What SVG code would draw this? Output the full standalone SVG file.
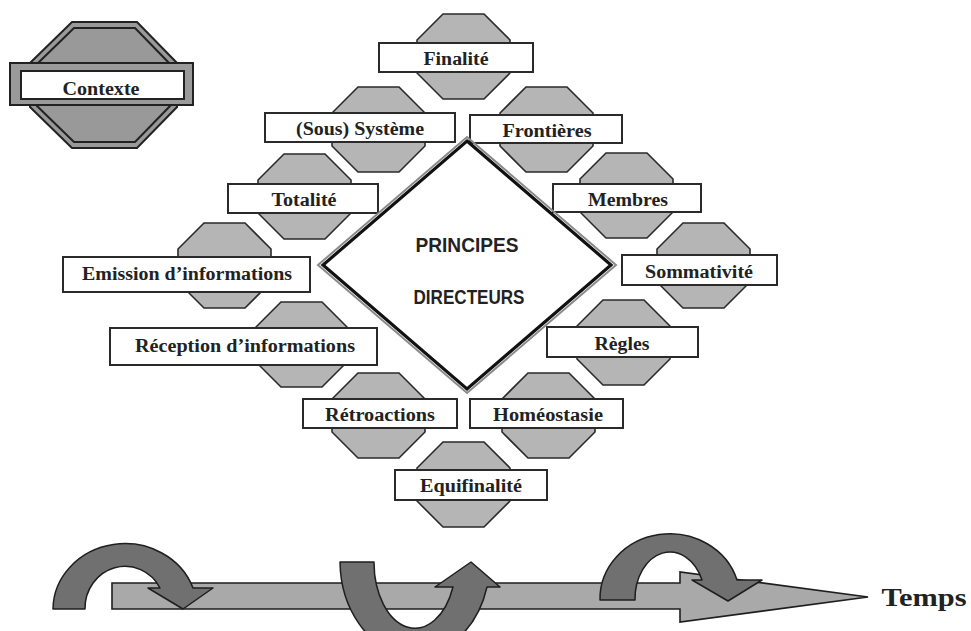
<svg xmlns="http://www.w3.org/2000/svg" xmlns:xlink="http://www.w3.org/1999/xlink" width="971" height="631" viewBox="0 0 971 631">
<style>
.oct{fill:#b5b5b5;stroke:#2a2a2a;stroke-width:1.6}
.box{fill:#fff;stroke:#2a2a2a;stroke-width:2}
.lbl{font-family:"Liberation Serif","Times New Roman",serif;font-weight:bold;font-size:18px;fill:#222;text-anchor:middle}
.dia{font-family:"Liberation Sans",Arial,sans-serif;font-weight:bold;font-size:20px;fill:#222;text-anchor:middle}
.curl{fill:#707070;stroke:#1e1e1e;stroke-width:1.5;stroke-linejoin:round}
</style>
<defs>
<polygon id="oct" points="26,0 67,0 93,26 93,59 67,85 26,85 0,59 0,26"/>
</defs>
<rect width="971" height="631" fill="#fff"/>

<g id="contexte">
<polygon points="72,22 137,22 177,63 177,107 137,148 72,148 30,107 30,63" fill="#999" stroke="#222" stroke-width="2"/>
<polygon points="74,28 135,28 171,65 171,105 135,142 74,142 36,105 36,65" fill="#999" stroke="#222" stroke-width="2"/>
<rect x="10" y="63" width="183" height="42" fill="#9a9a9a" stroke="#222" stroke-width="2"/>
<rect x="21" y="71" width="163" height="28" fill="#fff" stroke="#222" stroke-width="2"/>
<text class="lbl" x="101" y="95" textLength="77" lengthAdjust="spacingAndGlyphs">Contexte</text>
</g>

<g id="finalite">
<use xlink:href="#oct" class="oct" x="417" y="14"/>
<rect class="box" x="379" y="43" width="154" height="29"/>
<text class="lbl" x="456" y="65" textLength="65" lengthAdjust="spacingAndGlyphs">Finalité</text>
</g>

<g id="sous-systeme">
<use xlink:href="#oct" class="oct" x="332" y="87"/>
<rect class="box" x="265" y="113" width="190" height="29"/>
<text class="lbl" x="360" y="135" textLength="128" lengthAdjust="spacingAndGlyphs">(Sous) Système</text>
</g>

<g id="frontieres">
<use xlink:href="#oct" class="oct" x="500" y="87"/>
<rect class="box" x="470" y="115" width="152" height="28"/>
<text class="lbl" x="547" y="137" textLength="89" lengthAdjust="spacingAndGlyphs">Frontières</text>
</g>

<g id="totalite">
<use xlink:href="#oct" class="oct" x="258" y="154"/>
<rect class="box" x="228" y="184" width="150" height="29"/>
<text class="lbl" x="304" y="206" textLength="65" lengthAdjust="spacingAndGlyphs">Totalité</text>
</g>

<g id="membres">
<use xlink:href="#oct" class="oct" x="580" y="153"/>
<rect class="box" x="553" y="184" width="148" height="28"/>
<text class="lbl" x="628" y="206" textLength="80" lengthAdjust="spacingAndGlyphs">Membres</text>
</g>

<g id="emission">
<use xlink:href="#oct" class="oct" x="178" y="223"/>
<rect class="box" x="63" y="257" width="247" height="35"/>
<text class="lbl" x="187" y="280" textLength="210" lengthAdjust="spacingAndGlyphs">Emission d’informations</text>
</g>

<g id="sommativite">
<use xlink:href="#oct" class="oct" x="657" y="223"/>
<rect class="box" x="622" y="255" width="155" height="30"/>
<text class="lbl" x="699" y="278" textLength="108" lengthAdjust="spacingAndGlyphs">Sommativité</text>
</g>

<g id="reception">
<use xlink:href="#oct" class="oct" x="255" y="302"/>
<rect class="box" x="110" y="328" width="267" height="37"/>
<text class="lbl" x="245" y="352" textLength="220" lengthAdjust="spacingAndGlyphs">Réception d’informations</text>
</g>

<g id="regles">
<use xlink:href="#oct" class="oct" x="577" y="300"/>
<rect class="box" x="547" y="327" width="151" height="30"/>
<text class="lbl" x="622" y="350" textLength="55" lengthAdjust="spacingAndGlyphs">Règles</text>
</g>

<g id="retroactions">
<use xlink:href="#oct" class="oct" x="332" y="373"/>
<rect class="box" x="303" y="399" width="154" height="29"/>
<text class="lbl" x="380" y="421" textLength="110" lengthAdjust="spacingAndGlyphs">Rétroactions</text>
</g>

<g id="homeostasie">
<use xlink:href="#oct" class="oct" x="502" y="373"/>
<rect class="box" x="470" y="399" width="153" height="29"/>
<text class="lbl" x="548" y="421" textLength="110" lengthAdjust="spacingAndGlyphs">Homéostasie</text>
</g>

<g id="equifinalite">
<use xlink:href="#oct" class="oct" x="417" y="442"/>
<rect class="box" x="395" y="470" width="152" height="30"/>
<text class="lbl" x="471" y="492" textLength="102" lengthAdjust="spacingAndGlyphs">Equifinalité</text>
</g>

<g id="principes-directeurs">
<polygon points="467,137 616,265 467,393 318,265" fill="none" stroke="#8a8a8a" stroke-width="2"/>
<polygon points="467,141 611,265 467,389 323,265" fill="#fff" stroke="#111" stroke-width="3.2"/>
<text class="dia" x="467" y="252" textLength="103" lengthAdjust="spacingAndGlyphs">PRINCIPES</text>
<text class="dia" x="469" y="304" textLength="111" lengthAdjust="spacingAndGlyphs">DIRECTEURS</text>
</g>

<g id="timeline">
<polygon points="112,583 680,583 680,572 868,597 680,622 680,609 112,609" fill="#a9a9a9" stroke="#1e1e1e" stroke-width="1.6" stroke-linejoin="miter"/>
<path class="curl" d="M53,609 A72,66 0 0 1 193,588 L213,588 L183,609 L148,588 L160,588 A40,42 0 0 0 85,609 Z"/>
<path class="curl" d="M340,562 L374,562 A41,66 0 0 0 453,587 L435,587 L471,562 L500,587 L487,587 A75,95 0 0 1 340,562 Z"/>
<path class="curl" d="M600,600 A70,65 0 0 1 737,580 L762,580 L728,601 L692,580 L702,580 A35,47 0 0 0 635,600 Z"/>
<text class="lbl" x="924" y="606" font-size="26" textLength="85" lengthAdjust="spacingAndGlyphs" style="font-size:26px">Temps</text>
</g>
</svg>
